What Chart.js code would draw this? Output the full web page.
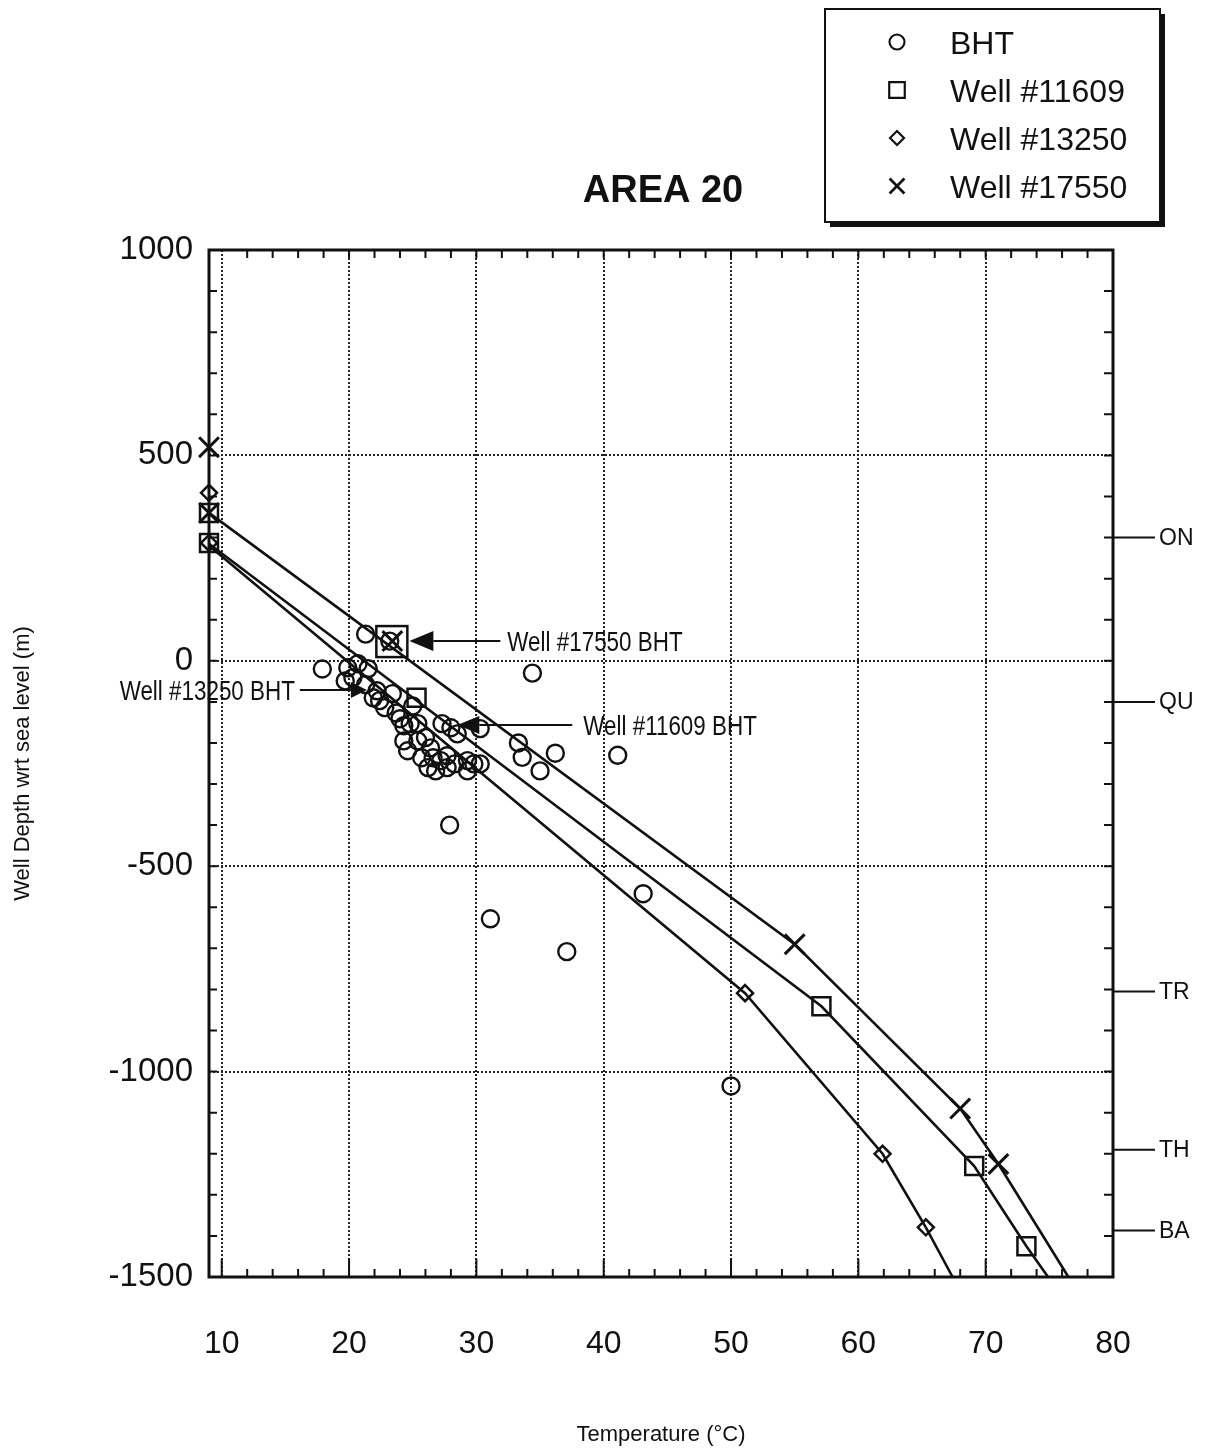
<!DOCTYPE html>
<html>
<head>
<meta charset="utf-8">
<title>AREA 20</title>
<script src="https://cdn.jsdelivr.net/npm/chart.js@4.4.1/dist/chart.umd.min.js"></script>
<style>
  html, body { margin: 0; padding: 0; background: #ffffff; }
  #wrap { width: 1206px; height: 1450px; position: relative; }
  canvas { display: block; }
</style>
</head>
<body>
<div id="wrap"><canvas id="chart" width="1206" height="1450"></canvas></div>
<script>
// ---- Axis ticks ----
const tempTicks = [10, 20, 30, 40, 50, 60, 70, 80];
const tempTickLabels = ['10', '20', '30', '40', '50', '60', '70', '80'];
const depthTicks = [1000, 500, 0, -500, -1000, -1500];
const depthTickLabels = ['1000', '500', '0', '-500', '-1000', '-1500'];

// ---- Bottom-hole temperatures (°C, m wrt sea level) ----
const bhtTemp = [21.3, 23.2, 17.9, 34.4, 19.9, 20.7, 21.5, 19.7, 20.3, 21.3,
                 21.9, 22.4, 22.8, 22.2, 23.4, 24.0, 24.3, 24.8, 25.4, 24.3,
                 24.6, 25.4, 26.0, 26.4, 25.7, 26.6, 26.2, 26.8, 27.2, 27.7,
                 27.3, 28.0, 28.5, 27.7, 28.3, 29.3, 29.8, 30.3, 29.3, 30.3,
                 25.0, 23.7, 33.3, 33.6, 36.2, 35.0, 41.1, 27.9, 31.1, 43.1,
                 37.1, 50.0];
const bhtDepth = [65, 48, -20, -30, -17, -7, -19, -49, -41, -58,
                  -90, -97, -114, -73, -80, -141, -158, -153, -153, -195,
                  -219, -195, -187, -212, -236, -236, -260, -268, -243, -231,
                  -153, -163, -178, -260, -251, -243, -251, -251, -268, -165,
                  -110, -127, -200, -235, -225, -268, -230, -400, -628, -567,
                  -708, -1035];

// ---- Well temperature logs ----
const well11609Temp = [9, 9, 25.3, 57.1, 69.1, 73.2];
const well11609Depth = [360, 287, -90, -841, -1230, -1425];
const well13250Temp = [9, 9, 51.1, 61.9, 65.3];
const well13250Depth = [409, 287, -809, -1200, -1379];
const well17550Temp = [9, 9, 23.4, 55.0, 68.0, 71.0];
const well17550Depth = [520, 360, 48, -690, -1090, -1225];

// ---- Gradient profiles through each well ----
const profile11609Temp = [9, 57.1, 69.1, 73.2, 74.9];
const profile11609Depth = [285, -841, -1230, -1425, -1500];
const profile13250Temp = [9, 51.1, 61.9, 65.3, 67.4];
const profile13250Depth = [280, -809, -1200, -1379, -1500];
const profile17550Temp = [9, 55.0, 68.0, 71.0, 76.5];
const profile17550Depth = [360, -690, -1090, -1225, -1500];

// ---- Formation tops (right-hand axis) ----
const formationNames = ['ON', 'QU', 'TR', 'TH', 'BA'];
const formationDepths = [300, -100, -805, -1190, -1387];

// ---- Labelled BHT readings ----
const calloutTexts = ['Well #17550 BHT', 'Well #13250 BHT', 'Well #11609 BHT'];
const calloutTemp = [23.4, 21.4, 28.5];
const calloutDepth = [48, -71, -156];

const INK = '#111111';
const FONT = '"Liberation Sans", Arial, Helvetica, sans-serif';

function pts(xs, ys) { return xs.map((x, i) => ({ x: x, y: ys[i] })); }

const markerBase = { showLine: false, borderColor: INK, backgroundColor: 'rgba(0,0,0,0)', clip: false };
const profileBase = { showLine: true, borderColor: INK, borderWidth: 2.6, pointRadius: 0, tension: 0, clip: false, fill: false };

const datasets = [
  Object.assign({ label: 'BHT', data: pts(bhtTemp, bhtDepth), pointStyle: 'circle', pointRadius: 8.5, borderWidth: 2.4 }, markerBase),
  Object.assign({ label: 'Well #11609', data: pts(well11609Temp, well11609Depth), pointStyle: 'rect', pointRadius: 12.7, borderWidth: 2.5 }, markerBase),
  Object.assign({ label: 'Well #13250', data: pts(well13250Temp, well13250Depth), pointStyle: 'rectRot', pointRadius: 8, borderWidth: 2.5 }, markerBase),
  Object.assign({ label: 'Well #17550', data: pts(well17550Temp, well17550Depth), pointStyle: 'crossRot', pointRadius: 14, borderWidth: 3 }, markerBase),
  Object.assign({ label: 'profile 11609', data: pts(profile11609Temp, profile11609Depth) }, profileBase),
  Object.assign({ label: 'profile 13250', data: pts(profile13250Temp, profile13250Depth) }, profileBase),
  Object.assign({ label: 'profile 17550', data: pts(profile17550Temp, profile17550Depth) }, profileBase)
];

// Filled arrowhead pointing from (x1,y1) toward (x2,y2)
function arrow(ctx, x1, y1, x2, y2, headLen, headHalf) {
  const ang = Math.atan2(y2 - y1, x2 - x1);
  const bx = x2 - Math.cos(ang) * headLen, by = y2 - Math.sin(ang) * headLen;
  ctx.beginPath();
  ctx.moveTo(x1, y1);
  ctx.lineTo(bx, by);
  ctx.stroke();
  ctx.beginPath();
  ctx.moveTo(x2, y2);
  ctx.lineTo(bx - Math.sin(ang) * headHalf, by + Math.cos(ang) * headHalf);
  ctx.lineTo(bx + Math.sin(ang) * headHalf, by - Math.cos(ang) * headHalf);
  ctx.closePath();
  ctx.fill();
}

function narrowText(ctx, text, x, y, align, sx) {
  ctx.save();
  ctx.translate(x, y);
  ctx.scale(sx, 1);
  ctx.textAlign = align;
  ctx.fillText(text, 0, 0);
  ctx.restore();
}

const frame = {
  id: 'frame',
  afterDatasetsDraw(chart) {
    const ctx = chart.ctx;
    const { left, right, top, bottom } = chart.chartArea;
    const xs = chart.scales.x, ys = chart.scales.y;
    ctx.save();
    ctx.strokeStyle = INK;
    ctx.fillStyle = INK;
    ctx.setLineDash([]);

    // inward tick marks
    ctx.lineWidth = 2;
    ctx.beginPath();
    for (let t = 12; t < 80; t += 2) {
      const px = xs.getPixelForValue(t);
      const major = t % 10 === 0;
      ctx.moveTo(px, bottom); ctx.lineTo(px, bottom - (major ? 18 : 8));
      ctx.moveTo(px, top); ctx.lineTo(px, top + 8);
    }
    ctx.moveTo(xs.getPixelForValue(10), bottom); ctx.lineTo(xs.getPixelForValue(10), bottom - 18);
    for (let d = -1400; d < 1000; d += 100) {
      const py = ys.getPixelForValue(d);
      ctx.moveTo(left, py); ctx.lineTo(left + 8, py);
      ctx.moveTo(right, py); ctx.lineTo(right - 9, py);
    }
    ctx.stroke();

    // plot frame
    ctx.lineWidth = 3;
    ctx.strokeRect(left, top, right - left, bottom - top);

    // formation tops
    ctx.lineWidth = 2;
    ctx.font = '23px ' + FONT;
    ctx.textBaseline = 'middle';
    ctx.textAlign = 'left';
    formationNames.forEach((name, i) => {
      const py = ys.getPixelForValue(formationDepths[i]);
      ctx.beginPath();
      ctx.moveTo(right, py); ctx.lineTo(right + 42, py);
      ctx.stroke();
      ctx.fillText(name, right + 46, py + 1);
    });

    // callouts
    ctx.font = '27px ' + FONT;
    ctx.textBaseline = 'alphabetic';
    ctx.lineWidth = 2;
    // Well #17550 BHT: boxed reading, arrow from the right
    {
      const px = xs.getPixelForValue(calloutTemp[0]), py = ys.getPixelForValue(calloutDepth[0]);
      ctx.lineWidth = 2.5;
      ctx.strokeRect(px - 16, py - 15, 31, 31);
      ctx.lineWidth = 2;
      arrow(ctx, px + 108, py, px + 17, py, 24, 10);
      narrowText(ctx, calloutTexts[0], px + 115, py + 10, 'left', 0.83);
    }
    // Well #13250 BHT: arrow from the left
    {
      const px = xs.getPixelForValue(calloutTemp[1]), py = ys.getPixelForValue(calloutDepth[1]);
      arrow(ctx, px - 67, py, px, py, 16, 8);
      narrowText(ctx, calloutTexts[1], px - 72, py + 10, 'right', 0.83);
    }
    // Well #11609 BHT: arrow from the right
    {
      const px = xs.getPixelForValue(calloutTemp[2]), py = ys.getPixelForValue(calloutDepth[2]);
      arrow(ctx, px + 115, py, px, py, 22, 9);
      narrowText(ctx, calloutTexts[2], px + 126, py + 10, 'left', 0.83);
    }
    ctx.restore();
  },
  afterDraw(chart) {
    const ctx = chart.ctx;
    ctx.save();
    ctx.fillStyle = INK;
    ctx.strokeStyle = INK;

    // chart title
    ctx.font = 'bold 38px ' + FONT;
    ctx.textAlign = 'center';
    ctx.textBaseline = 'alphabetic';
    ctx.fillText('AREA 20', 663, 202);

    // legend box with drop shadow
    const bx = 825, by = 9, bw = 335, bh = 213;
    ctx.fillRect(bx + 5, by + 5, bw, bh);
    ctx.fillStyle = '#ffffff';
    ctx.fillRect(bx, by, bw, bh);
    ctx.fillStyle = INK;
    ctx.lineWidth = 2;
    ctx.strokeRect(bx, by, bw, bh);

    const rows = [42, 90, 138, 186];
    const legendRadius = [7.5, 11, 7, 10.5];
    ctx.font = '32px ' + FONT;
    ctx.textAlign = 'left';
    ctx.textBaseline = 'alphabetic';
    for (let i = 0; i < 4; i++) {
      const ds = chart.data.datasets[i];
      ctx.save();
      ctx.lineWidth = ds.borderWidth - 0.3;
      ctx.strokeStyle = INK;
      ctx.fillStyle = 'rgba(0,0,0,0)';
      Chart.helpers.drawPoint(ctx, { pointStyle: ds.pointStyle, radius: legendRadius[i], rotation: 0, borderWidth: ds.borderWidth }, 897, rows[i]);
      ctx.restore();
      ctx.fillText(ds.label, 950, rows[i] + 12);
    }
    ctx.restore();
  }
};

new Chart(document.getElementById('chart'), {
  type: 'scatter',
  data: { datasets: datasets },
  options: {
    responsive: false,
    animation: false,
    events: [],
    layout: { padding: { left: 0, right: 93, top: 250, bottom: 0 } },
    plugins: { legend: { display: false }, tooltip: { enabled: false }, title: { display: false } },
    scales: {
      x: {
        type: 'linear',
        min: 9, max: 80,
        afterFit: s => { s.height = 173; },
        afterBuildTicks: s => { s.ticks = tempTicks.map(v => ({ value: v })); },
        ticks: {
          color: INK,
          font: { family: FONT, size: 32 },
          padding: 48,
          maxRotation: 0,
          autoSkip: false,
          callback: (v) => tempTickLabels[tempTicks.indexOf(v)]
        },
        grid: { color: '#222222', lineWidth: 2, drawTicks: false },
        border: { display: false, dash: [2, 2] },
        title: {
          display: true,
          text: 'Temperature (°C)',
          color: INK,
          font: { family: FONT, size: 22 },
          padding: { top: 0, bottom: 2 }
        }
      },
      y: {
        type: 'linear',
        min: -1500, max: 1000,
        afterFit: s => { s.width = 209; },
        afterBuildTicks: s => { s.ticks = depthTicks.map(v => ({ value: v })); },
        ticks: {
          color: INK,
          font: { family: FONT, size: 33 },
          padding: 16,
          autoSkip: false,
          callback: (v) => depthTickLabels[depthTicks.indexOf(v)]
        },
        grid: { color: '#222222', lineWidth: 2, drawTicks: false },
        border: { display: false, dash: [2, 2] },
        title: {
          display: true,
          text: 'Well Depth wrt sea level (m)',
          color: INK,
          font: { family: FONT, size: 22 },
          padding: { top: 10, bottom: 0 }
        }
      }
    }
  },
  plugins: [frame]
});
</script>
</body>
</html>
